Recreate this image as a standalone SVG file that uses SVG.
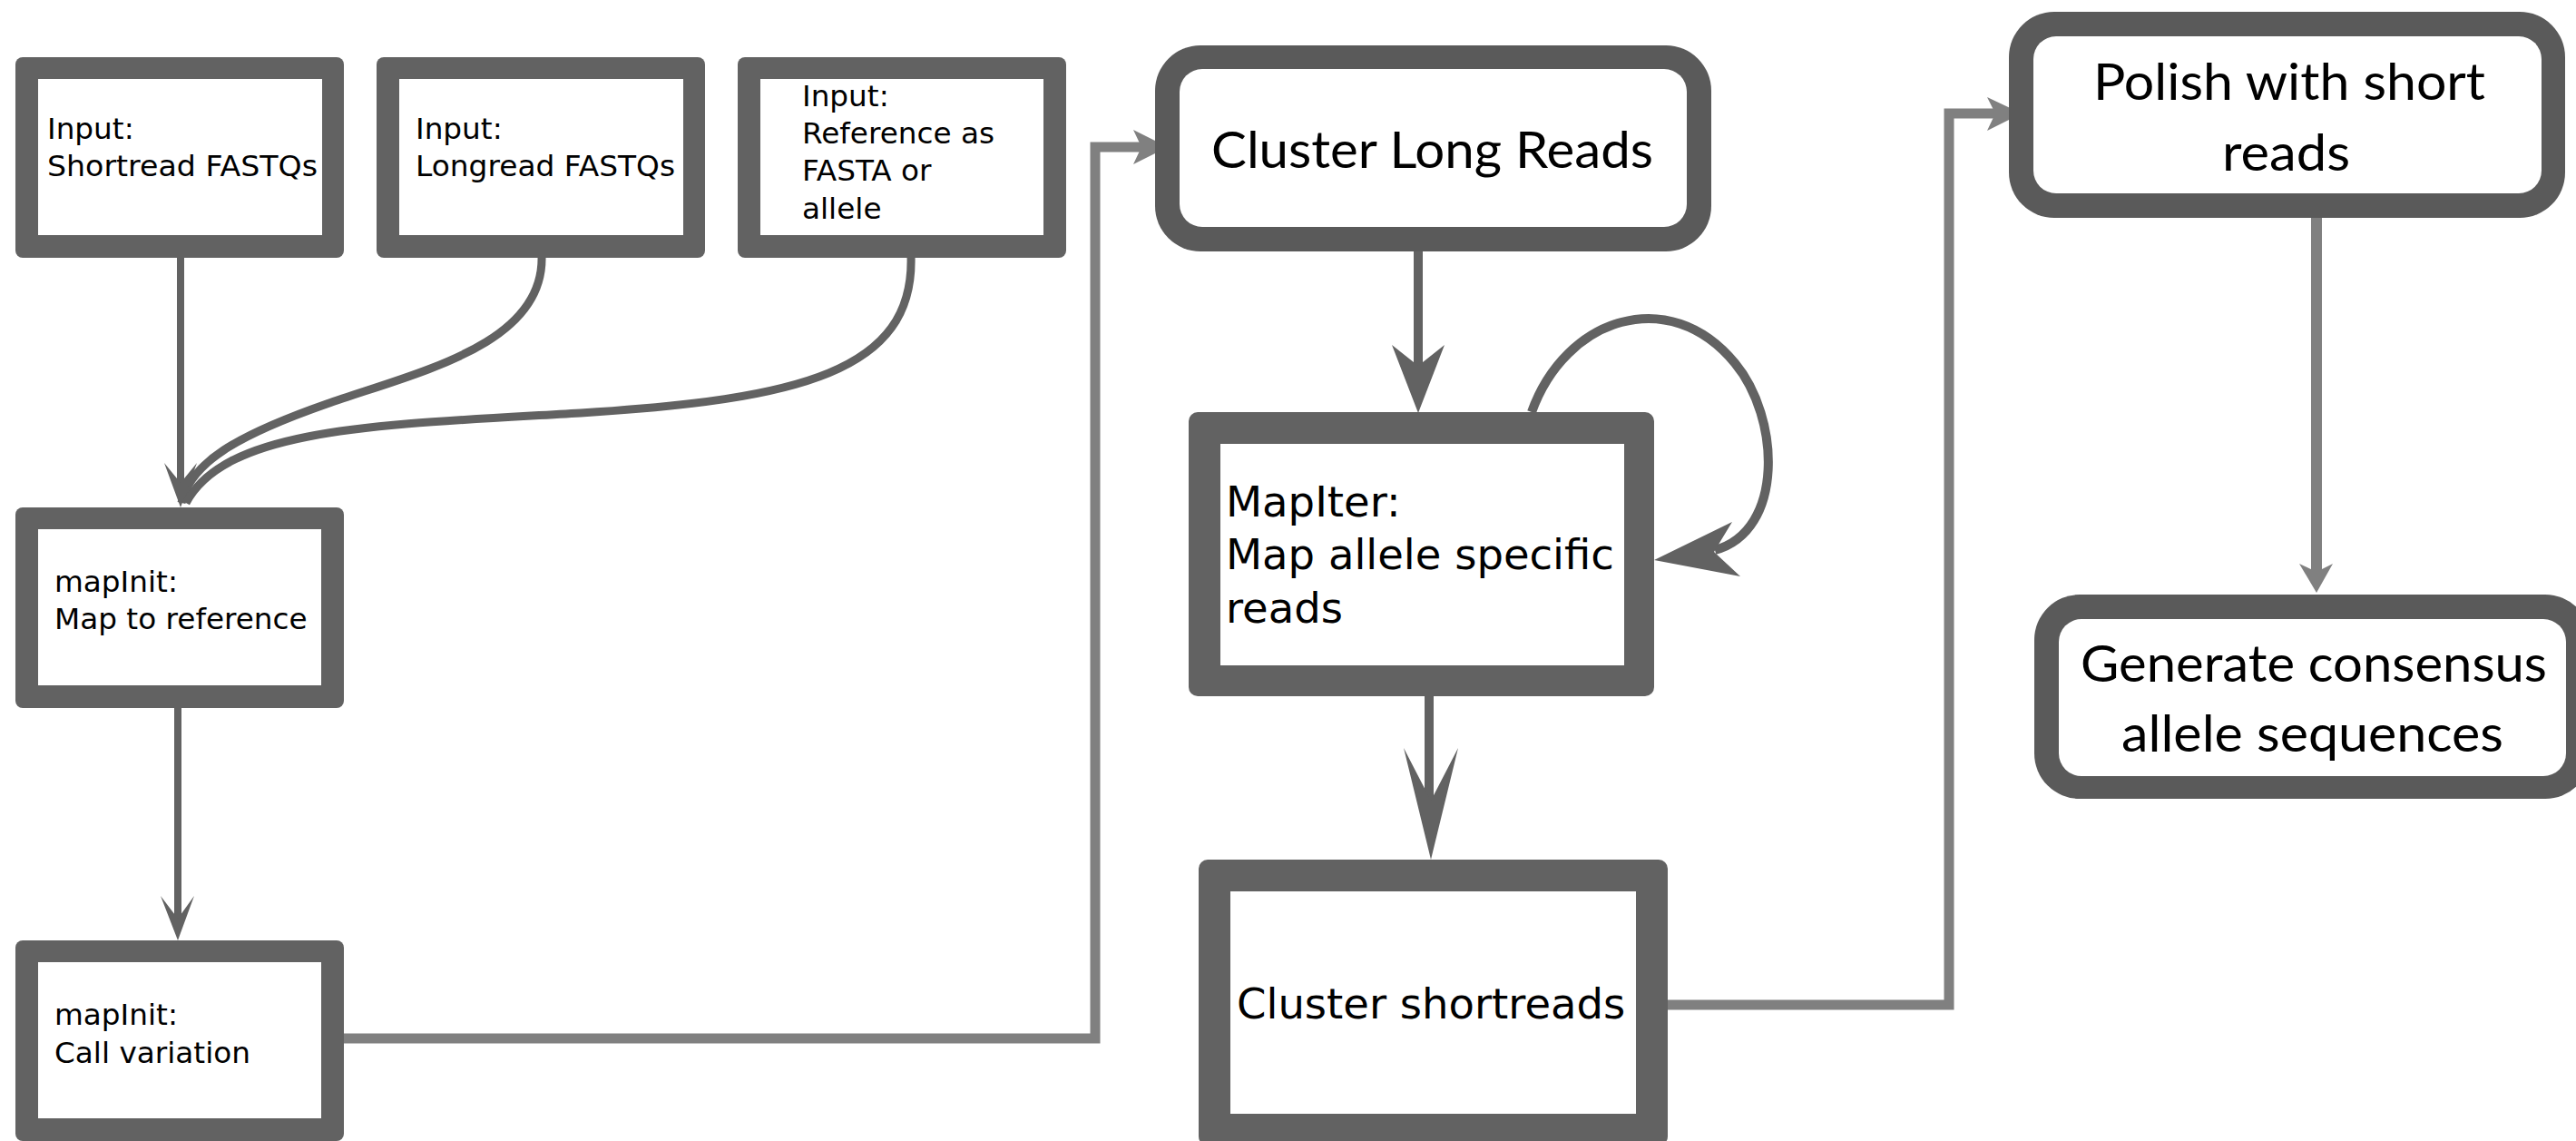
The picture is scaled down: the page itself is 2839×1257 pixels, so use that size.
<svg xmlns="http://www.w3.org/2000/svg" width="2839" height="1257" viewBox="0 0 2839 1257">
<style>
.frame{fill:#626262}
.frame2{fill:#5a5a5a}
.inner{fill:#ffffff}
.t{font-family:"DejaVu Sans",sans-serif;font-size:32.7px;fill:#000}
.tm{font-family:"DejaVu Sans",sans-serif;font-size:46.5px;fill:#000}
.tc{font-family:Lato,"Open Sans",sans-serif;font-size:57px;fill:#000}
.dk{fill:none;stroke:#626262;stroke-width:8}
.dk9{fill:none;stroke:#626262;stroke-width:9}
.dk10{fill:none;stroke:#626262;stroke-width:10}
.gr{fill:none;stroke:#808080;stroke-width:11;stroke-linejoin:miter}
.gr12{fill:none;stroke:#808080;stroke-width:12}
.ahd{fill:#626262}
.ahg{fill:#808080}
</style>
<rect width="2839" height="1257" fill="#ffffff"/>
<g id="connectors">
<line class="dk" x1="199" y1="282" x2="199" y2="532"/>
<path class="dk9" d="M597,282 C600,380 460,410 360,445 C260,480 210,510 200,554"/>
<path class="dk9" d="M1004,282 C1008,410 880,440 640,455 C420,468 250,470 205,554"/>
<polygon class="ahd" points="181,510 199,559 217,510 199,532"/>
<line class="dk" x1="196" y1="780" x2="196" y2="1014"/>
<polygon class="ahd" points="177,987 196,1036 214,987 196,1012"/>
<polyline class="gr" points="379,1144 1207,1144 1207,162 1260,162"/>
<polygon class="ahg" points="1249,143 1287,162 1249,181 1258,162"/>
<line class="dk10" x1="1563" y1="277" x2="1563" y2="405"/>
<polygon class="ahd" points="1534,380 1563,455 1592,380 1563,403"/>
<path class="dk10" d="M1688,454 C1725,350 1840,312 1912,400 C1962,460 1967,585 1890,606"/>
<polygon class="ahd" points="1909,575 1823,617 1918,635 1889,608"/>
<line class="dk10" x1="1575" y1="767" x2="1575" y2="884"/>
<polygon class="ahd" points="1547,824 1577,947 1607,824 1577,882"/>
<polyline class="gr" points="1838,1107 2148,1107 2148,125 2200,125"/>
<polygon class="ahg" points="2190,107 2228,125 2190,144 2199,125"/>
<line class="gr12" x1="2553" y1="240" x2="2553" y2="632"/>
<polygon class="ahg" points="2534,621 2553,653 2571,621 2553,630"/>
</g>
<g id="node-shortread">
<rect class="frame" x="17" y="63" width="362" height="221" rx="8"/>
<rect class="inner" x="42" y="87" width="313" height="172"/>
<text class="t" x="52" y="153">Input:</text>
<text class="t" x="52" y="194" textLength="298" lengthAdjust="spacingAndGlyphs">Shortread FASTQs</text>
</g>
<g id="node-longread">
<rect class="frame" x="415" y="63" width="362" height="221" rx="8"/>
<rect class="inner" x="440" y="87" width="313" height="172"/>
<text class="t" x="458" y="153">Input:</text>
<text class="t" x="458" y="194" textLength="286" lengthAdjust="spacingAndGlyphs">Longread FASTQs</text>
</g>
<g id="node-reference">
<rect class="frame" x="813" y="63" width="362" height="221" rx="8"/>
<rect class="inner" x="838" y="87" width="312" height="172"/>
<text class="t" x="884" y="117">Input:</text>
<text class="t" x="884" y="158">Reference as</text>
<text class="t" x="884" y="199">FASTA or</text>
<text class="t" x="884" y="241">allele</text>
</g>
<g id="node-mapinit-map">
<rect class="frame" x="17" y="559" width="362" height="221" rx="8"/>
<rect class="inner" x="42" y="583" width="312" height="172"/>
<text class="t" x="60" y="652">mapInit:</text>
<text class="t" x="60" y="693">Map to reference</text>
</g>
<g id="node-mapinit-call">
<rect class="frame" x="17" y="1036" width="362" height="221" rx="8"/>
<rect class="inner" x="42" y="1060" width="312" height="172"/>
<text class="t" x="60" y="1129">mapInit:</text>
<text class="t" x="60" y="1171">Call variation</text>
</g>
<g id="node-cluster-long">
<rect class="frame2" x="1273" y="50" width="613" height="227" rx="50"/>
<rect class="inner" x="1300" y="76" width="559" height="174" rx="25"/>
<text class="tc" x="1335" y="185" textLength="487" lengthAdjust="spacingAndGlyphs">Cluster Long Reads</text>
</g>
<g id="node-mapiter">
<rect class="frame" x="1310" y="454" width="513" height="313" rx="10"/>
<rect class="inner" x="1345" y="489" width="445" height="244"/>
<text class="tm" x="1351" y="569">MapIter:</text>
<text class="tm" x="1351" y="627">Map allele specific</text>
<text class="tm" x="1351" y="686">reads</text>
</g>
<g id="node-cluster-short">
<rect class="frame" x="1321" y="947" width="517" height="315" rx="10"/>
<rect class="inner" x="1356" y="982" width="447" height="245"/>
<text class="tm" x="1363" y="1122">Cluster shortreads</text>
</g>
<g id="node-polish">
<rect class="frame2" x="2214" y="13" width="613" height="227" rx="50"/>
<rect class="inner" x="2241" y="40" width="560" height="173" rx="25"/>
<text class="tc" x="2307" y="110" textLength="432" lengthAdjust="spacingAndGlyphs">Polish with short</text>
<text class="tc" x="2449" y="188" textLength="141" lengthAdjust="spacingAndGlyphs">reads</text>
</g>
<g id="node-consensus">
<rect class="frame2" x="2242" y="655" width="613" height="225" rx="50"/>
<rect class="inner" x="2269" y="682" width="559" height="173" rx="25"/>
<text class="tc" x="2293" y="751" textLength="514" lengthAdjust="spacingAndGlyphs">Generate consensus</text>
<text class="tc" x="2338" y="828" textLength="421" lengthAdjust="spacingAndGlyphs">allele sequences</text>
</g>
</svg>
